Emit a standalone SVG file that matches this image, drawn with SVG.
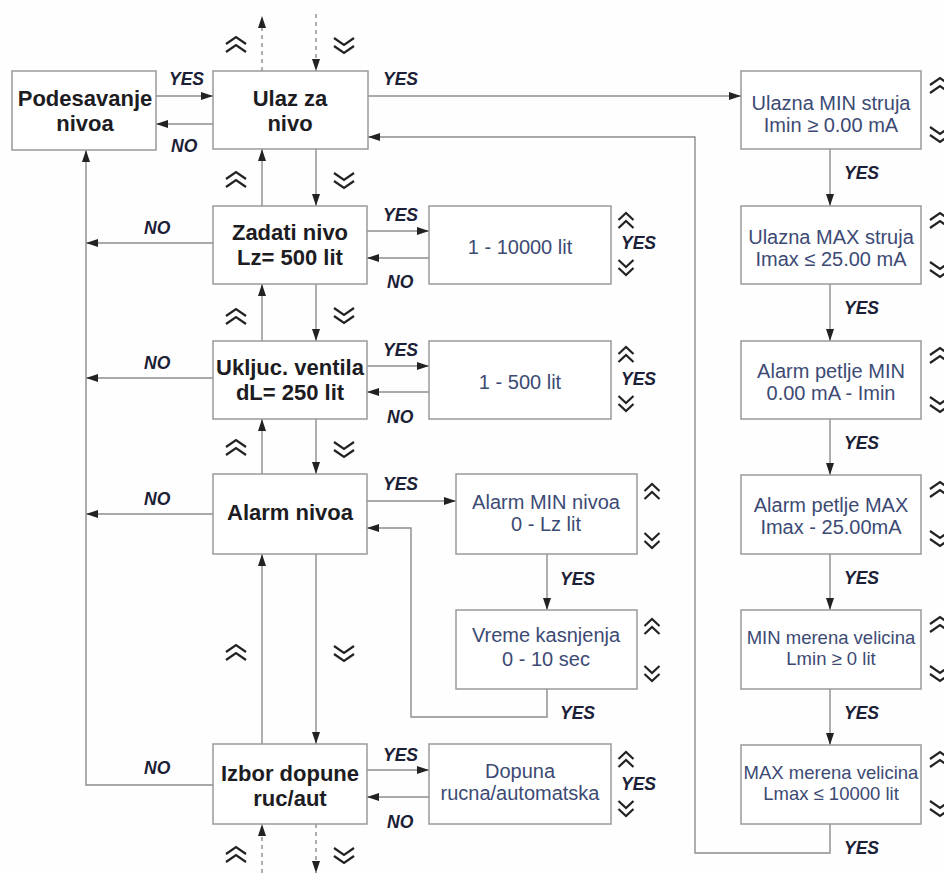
<svg xmlns="http://www.w3.org/2000/svg" xmlns:xlink="http://www.w3.org/1999/xlink" width="944" height="873" viewBox="0 0 944 873">
<style>
.box{fill:#ffffff;stroke:#9a9a9a;stroke-width:1.5}
.nt{font-family:"Liberation Sans",Arial,sans-serif;font-weight:bold;font-size:22px;fill:#1c1c22;text-anchor:middle}
.vt{font-family:"Liberation Sans",Arial,sans-serif;font-size:20px;fill:#3c4a74;text-anchor:middle}
.vs{font-family:"Liberation Sans",Arial,sans-serif;font-size:18.5px;fill:#3c4a74;text-anchor:middle}
.lb{font-family:"Liberation Sans",Arial,sans-serif;font-weight:bold;font-style:italic;font-size:17.5px;fill:#1b2036}
.ln{fill:none;stroke:#8c8c8c;stroke-width:1.4}
.ar{fill:none;stroke:#8c8c8c;stroke-width:1.4;marker-end:url(#ah)}
.da{fill:none;stroke:#8c8c8c;stroke-width:1.4;stroke-dasharray:4 4;marker-end:url(#ah)}
.ch{fill:none;stroke:#222;stroke-width:2.2}
</style>
<defs>
<marker id="ah" markerUnits="userSpaceOnUse" markerWidth="13" markerHeight="9" refX="12" refY="4" orient="auto">
<path d="M0,0 L12,4 L0,8 z" fill="#222"/>
</marker>
<path id="cu" class="ch" d="M-10,-1 L0,-8 L10,-1 M-10,7 L0,0 L10,7"/>
<path id="cd" class="ch" d="M-10,-7 L0,0 L10,-7 M-10,1 L0,8 L10,1"/>
<path id="su" class="ch" d="M-7.5,-1 L0,-8 L7.5,-1 M-7.5,7 L0,0 L7.5,7"/>
<path id="sd" class="ch" d="M-7.5,-7 L0,0 L7.5,-7 M-7.5,1 L0,8 L7.5,1"/>
</defs>
<rect x="0" y="0" width="944" height="873" fill="#fefefe"/>

<g id="connectors">
<path class="ar" d="M156,96 H213"/>
<path class="ar" d="M213,124 H156"/>
<path class="da" d="M262,71 V16"/>
<path class="da" d="M316,14 V71"/>
<path class="ar" d="M316,149 V206"/>
<path class="ar" d="M262,206 V149"/>
<path class="ar" d="M316,284 V341"/>
<path class="ar" d="M262,341 V284"/>
<path class="ar" d="M316,419 V474"/>
<path class="ar" d="M262,474 V419"/>
<path class="ar" d="M316,554 V744"/>
<path class="ar" d="M262,744 V554"/>
<path class="da" d="M262,873 V824"/>
<path class="da" d="M316,824 V873"/>
<path class="ar" d="M213,243 H86"/>
<path class="ar" d="M213,378 H86"/>
<path class="ar" d="M213,514 H86"/>
<path class="ar" d="M213,785 H86 V150"/>
<path class="ar" d="M367,231 H429"/>
<path class="ar" d="M429,258 H367"/>
<path class="ar" d="M367,366 H429"/>
<path class="ar" d="M429,392 H367"/>
<path class="ar" d="M367,501 H456"/>
<path class="ar" d="M547,554 V610"/>
<path class="ar" d="M547,689 V717 H411 V528 H367"/>
<path class="ar" d="M367,770 H429"/>
<path class="ar" d="M429,797 H367"/>
<path class="ar" d="M368,96 H741"/>
<path class="ar" d="M830,149 V206"/>
<path class="ar" d="M830,284 V341"/>
<path class="ar" d="M830,419 V475"/>
<path class="ar" d="M830,554 V610"/>
<path class="ar" d="M830,689 V745"/>
<path class="ar" d="M830,824 V853 H695 V137 H368"/>
</g>

<g id="labels">
<text class="lb" x="169" y="85">YES</text>
<text class="lb" x="171" y="152">NO</text>
<text class="lb" x="383" y="85">YES</text>
<text class="lb" x="383" y="221">YES</text>
<text class="lb" x="387" y="288">NO</text>
<text class="lb" x="383" y="356">YES</text>
<text class="lb" x="387" y="423">NO</text>
<text class="lb" x="383" y="490">YES</text>
<text class="lb" x="560" y="585">YES</text>
<text class="lb" x="560" y="719">YES</text>
<text class="lb" x="383" y="761">YES</text>
<text class="lb" x="387" y="828">NO</text>
<text class="lb" x="144" y="234">NO</text>
<text class="lb" x="144" y="369">NO</text>
<text class="lb" x="144" y="505">NO</text>
<text class="lb" x="144" y="774">NO</text>
<text class="lb" x="621" y="249">YES</text>
<text class="lb" x="621" y="385">YES</text>
<text class="lb" x="621" y="790">YES</text>
<text class="lb" x="844" y="179">YES</text>
<text class="lb" x="844" y="314">YES</text>
<text class="lb" x="844" y="449">YES</text>
<text class="lb" x="844" y="584">YES</text>
<text class="lb" x="844" y="719">YES</text>
<text class="lb" x="844" y="854">YES</text>
</g>

<g id="chevrons">
<use xlink:href="#cu" x="236" y="45"/><use xlink:href="#cd" x="344" y="45"/>
<use xlink:href="#cu" x="236" y="180"/><use xlink:href="#cd" x="344" y="180"/>
<use xlink:href="#cu" x="236" y="317"/><use xlink:href="#cd" x="344" y="315"/>
<use xlink:href="#cu" x="236" y="448"/><use xlink:href="#cd" x="344" y="449"/>
<use xlink:href="#cu" x="236" y="653"/><use xlink:href="#cd" x="344" y="653"/>
<use xlink:href="#cu" x="236" y="855"/><use xlink:href="#cd" x="344" y="855"/>
<use xlink:href="#su" x="626" y="221"/><use xlink:href="#sd" x="626" y="267"/>
<use xlink:href="#su" x="626" y="355"/><use xlink:href="#sd" x="626" y="403"/>
<use xlink:href="#su" x="652" y="492"/><use xlink:href="#sd" x="652" y="540"/>
<use xlink:href="#su" x="652" y="627"/><use xlink:href="#sd" x="652" y="673"/>
<use xlink:href="#su" x="626" y="760"/><use xlink:href="#sd" x="626" y="808"/>
<use xlink:href="#cu" x="940" y="86"/><use xlink:href="#cd" x="940" y="134"/>
<use xlink:href="#cu" x="940" y="221"/><use xlink:href="#cd" x="940" y="269"/>
<use xlink:href="#cu" x="940" y="356"/><use xlink:href="#cd" x="940" y="404"/>
<use xlink:href="#cu" x="940" y="490"/><use xlink:href="#cd" x="940" y="538"/>
<use xlink:href="#cu" x="940" y="625"/><use xlink:href="#cd" x="940" y="673"/>
<use xlink:href="#cu" x="940" y="760"/><use xlink:href="#cd" x="940" y="808"/>
</g>

<g id="podesavanje"><rect class="box" x="12" y="71" width="144" height="79"/>
<text class="nt" x="85" y="106">Podesavanje</text><text class="nt" x="85" y="131">nivoa</text></g>
<g id="ulaz"><rect class="box" x="213" y="71" width="155" height="78"/>
<text class="nt" x="290" y="106">Ulaz za</text><text class="nt" x="290" y="131">nivo</text></g>
<g id="zadati"><rect class="box" x="213" y="206" width="154" height="78"/>
<text class="nt" x="290" y="240">Zadati nivo</text><text class="nt" x="290" y="265">Lz= 500 lit</text></g>
<g id="ukljuc"><rect class="box" x="213" y="341" width="154" height="78"/>
<text class="nt" x="290" y="375">Ukljuc. ventila</text><text class="nt" x="290" y="400">dL= 250 lit</text></g>
<g id="alarm"><rect class="box" x="213" y="474" width="154" height="80"/>
<text class="nt" x="290" y="520">Alarm nivoa</text></g>
<g id="izbor"><rect class="box" x="213" y="744" width="154" height="80"/>
<text class="nt" x="290" y="781">Izbor dopune</text><text class="nt" x="290" y="806">ruc/aut</text></g>

<g id="v10000"><rect class="box" x="429" y="206" width="182" height="78"/>
<text class="vt" x="520" y="254">1 - 10000 lit</text></g>
<g id="v500"><rect class="box" x="429" y="341" width="182" height="78"/>
<text class="vt" x="520" y="389">1 - 500 lit</text></g>
<g id="alarmmin"><rect class="box" x="456" y="474" width="181" height="80"/>
<text class="vt" x="546" y="509">Alarm MIN nivoa</text><text class="vt" x="546" y="531">0 - Lz lit</text></g>
<g id="vreme"><rect class="box" x="456" y="610" width="181" height="79"/>
<text class="vt" x="546" y="642">Vreme kasnjenja</text><text class="vt" x="546" y="666">0 - 10 sec</text></g>
<g id="dopuna"><rect class="box" x="429" y="744" width="182" height="80"/>
<text class="vt" x="520" y="778">Dopuna</text><text class="vt" x="520" y="800">rucna/automatska</text></g>

<g id="ulaznamin"><rect class="box" x="741" y="71" width="180" height="78"/>
<text class="vt" x="831" y="110">Ulazna MIN struja</text><text class="vt" x="831" y="132">Imin ≥ 0.00 mA</text></g>
<g id="ulaznamax"><rect class="box" x="741" y="206" width="180" height="78"/>
<text class="vt" x="831" y="244">Ulazna MAX struja</text><text class="vt" x="831" y="266">Imax ≤ 25.00 mA</text></g>
<g id="petljemin"><rect class="box" x="741" y="341" width="180" height="78"/>
<text class="vt" x="831" y="378">Alarm petlje MIN</text><text class="vt" x="831" y="400">0.00 mA - Imin</text></g>
<g id="petljemax"><rect class="box" x="741" y="475" width="180" height="79"/>
<text class="vt" x="831" y="512">Alarm petlje MAX</text><text class="vt" x="831" y="534">Imax - 25.00mA</text></g>
<g id="minmerena"><rect class="box" x="741" y="610" width="180" height="79"/>
<text class="vs" x="831" y="644">MIN merena velicina</text><text class="vs" x="831" y="665">Lmin ≥ 0 lit</text></g>
<g id="maxmerena"><rect class="box" x="741" y="745" width="180" height="79"/>
<text class="vs" x="831" y="779">MAX merena velicina</text><text class="vs" x="831" y="800">Lmax ≤ 10000 lit</text></g>
</svg>
